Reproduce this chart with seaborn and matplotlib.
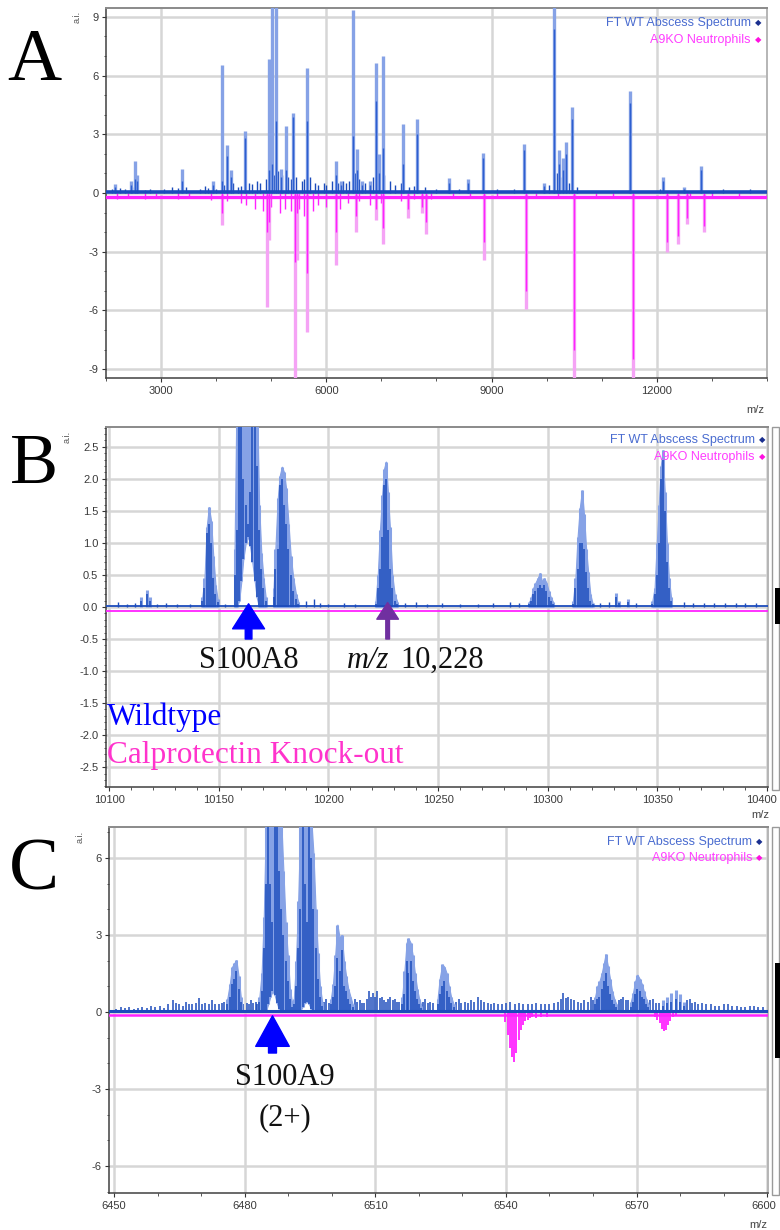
import numpy as np
import pandas as pd
import matplotlib
matplotlib.use("Agg")
import matplotlib.pyplot as plt
import matplotlib.transforms as mtransforms
from matplotlib.ticker import MultipleLocator, FixedLocator, FormatStrFormatter
from matplotlib.patches import Rectangle
import seaborn as sns

# ------------------------------------------------------------------ data
# Panel A (full m/z range): (m/z, envelope height, core height)
wt_a_peaks = [
    (2163, 0.45, 0.3), (2450, 0.6, 0.4), (2527, 1.65, 0.7), (2560, 0.9, 0.6),
    (3380, 1.25, 0.6), (3945, 0.6, 0.4), (4100, 6.55, 0.6), (4200, 2.45, 1.9),
    (4270, 1.15, 0.8), (4524, 3.15, 2.8), (4960, 6.85, 1.2), (5010, 9.6, 1.5),
    (5085, 9.6, 3.7), (5170, 1.25, 0.8), (5260, 3.4, 1.2), (5400, 4.1, 3.9),
    (5650, 6.4, 3.7), (6175, 1.65, 0.9), (6260, 0.6, 0.4), (6490, 9.35, 2.9),
    (6560, 2.25, 1.2), (6640, 0.6, 0.4), (6790, 0.6, 0.4), (6900, 6.65, 4.7),
    (6960, 2.0, 1.0), (7020, 7.0, 2.3), (7393, 3.55, 1.5), (7650, 3.8, 3.0),
    (8230, 0.75, 0.5), (8570, 0.7, 0.5), (8850, 2.05, 1.8), (9590, 2.5, 2.2),
    (9950, 0.5, 0.35), (10130, 9.6, 8.4), (10220, 2.2, 1.5), (10300, 1.8, 1.2),
    (10350, 2.6, 2.0), (10460, 4.4, 3.8), (11510, 5.2, 4.6), (12110, 0.8, 0.6),
    (12490, 0.3, 0.2), (12800, 1.4, 1.2), (13000, 0.12, 0.1),
]
wt_a_grass = [
    (2100, .2), (2250, .25), (2350, .2), (2480, .3), (2700, .15), (2800, .2),
    (3050, .2), (3200, .3), (3300, .25), (3450, .3), (3700, .2), (3800, .35),
    (3850, .25), (4000, .2), (4150, .4), (4300, .5), (4400, .3), (4450, .35),
    (4600, .5), (4650, .45), (4750, .6), (4800, .5), (4900, .7), (5050, .9),
    (5120, 1.1), (5200, .9), (5300, .8), (5350, .7), (5450, .8), (5550, .6),
    (5600, .7), (5700, .8), (5800, .5), (5850, .4), (5950, .5), (6000, .4),
    (6100, .6), (6220, .5), (6300, .6), (6350, .5), (6420, .6), (6520, 1.0),
    (6600, .7), (6700, .5), (6850, .8), (7050, .9), (7150, .6), (7250, .4),
    (7350, .5), (7500, .3), (7600, .35), (7800, .3), (8000, .2), (8400, .2),
    (9100, .2), (9400, .2), (10050, .4), (10180, 1.0), (10250, .8),
    (10400, .5), (10550, .3), (12050, .2), (13200, .2), (13700, .2),
]
ko_a_peaks = [
    (4100, -1.65, -1.0), (4920, -5.8, -2.0), (4960, -2.4, -1.5), (5430, -9.6, -3.5),
    (5460, -3.4, -1.0), (5640, -7.1, -4.1), (6175, -3.7, -2.0), (6540, -2.0, -1.2),
    (6900, -1.4, -0.8), (7030, -2.6, -1.8), (7480, -1.3, -0.8), (7730, -1.0, -0.7),
    (7810, -2.1, -1.5), (8870, -3.4, -2.5), (9620, -5.9, -5.0), (10500, -9.6, -8.0),
    (11570, -9.6, -8.5), (12180, -3.0, -2.5), (12380, -2.6, -2.2), (12540, -1.6, -1.3),
    (12850, -2.0, -1.7),
]
ko_a_grass = [
    (2200, -.3), (2400, -.25), (2700, -.3), (2900, -.2), (3300, -.3), (3500, -.25),
    (3900, -.35), (4200, -.4), (4450, -.5), (4550, -.6), (4700, -.8), (4850, -.9),
    (5000, -.7), (5150, -1.0), (5250, -.8), (5350, -.9), (5500, -.8), (5600, -1.2),
    (5750, -.9), (5850, -.6), (6000, -.7), (6250, -.8), (6400, -.5), (6600, -.4),
    (6800, -.6), (7000, -.5), (7350, -.4), (7600, -.3), (7900, -.3), (8300, -.25),
    (8600, -.2), (9100, -.2), (9800, -.2), (10200, -.2), (10900, -.15),
    (11200, -.15), (12600, -.2), (13000, -.15), (13500, -.15),
]
wt_a_base, ko_a_base = 0.05, -0.2
a_xticks = [3000, 6000, 9000, 12000]
a_yticks = [-9, -6, -3, 0, 3, 6, 9]

# Panel B (S100A8 region): (m/z, envelope top, core top, valley bottom)
wt_b_peaks = [
    (10114.6, 0.16, 0.1, 0), (10117.5, 0.27, 0.2, 0), (10118.5, 0.15, 0.1, 0),
    (10142.5, 0.15, 0.1, 0), (10143.5, 0.45, 0.3, 0), (10144.5, 1.25, 1.15, 0),
    (10145.5, 1.56, 1.3, 0), (10146.5, 1.35, 1.0, 0), (10147.5, 0.8, 0.45, 0),
    (10148.5, 0.35, 0.2, 0), (10149.5, 0.12, 0.08, 0),
    (10157.2, 0.9, 0.5, 0), (10158.2, 3.5, 1.2, 0), (10159.3, 3.5, 3.5, 0.1),
    (10160.3, 3.5, 3.5, 0.4), (10161.2, 3.5, 2.0, 0.75), (10162.3, 3.5, 1.6, 1.0),
    (10163.4, 3.5, 1.3, 1.1), (10164.3, 3.5, 1.8, 0.95), (10165.3, 3.5, 3.5, 0.7),
    (10166.4, 3.5, 3.5, 0.4), (10167.3, 3.5, 2.2, 0.15), (10168.4, 1.6, 1.2, 0),
    (10169.4, 0.85, 0.6, 0), (10170.4, 0.45, 0.3, 0), (10171.4, 0.15, 0.1, 0),
    (10175.0, 0.3, 0.15, 0), (10175.8, 0.9, 0.6, 0), (10176.9, 1.7, 0.9, 0),
    (10177.8, 2.05, 1.9, 0), (10178.8, 2.19, 2.0, 0), (10179.8, 2.1, 1.6, 0),
    (10180.7, 1.85, 1.3, 0), (10181.8, 1.3, 0.9, 0), (10182.8, 0.8, 0.5, 0),
    (10184.0, 0.45, 0.25, 0), (10185.2, 0.2, 0.12, 0), (10186.3, 0.08, 0.05, 0),
    (10221.5, 0.1, 0.05, 0), (10222.5, 0.5, 0.3, 0), (10223.5, 1.2, 0.6, 0),
    (10224.5, 1.75, 1.1, 0), (10225.3, 2.15, 1.9, 0), (10226.2, 2.27, 2.0, 0),
    (10227.1, 1.8, 1.2, 0), (10228.0, 1.25, 0.6, 0), (10229.1, 0.5, 0.3, 0),
    (10230.2, 0.2, 0.1, 0), (10231.4, 0.08, 0.05, 0),
    (10291.5, 0.08, 0.05, 0), (10292.5, 0.15, 0.1, 0), (10293.4, 0.3, 0.2, 0),
    (10294.4, 0.38, 0.25, 0), (10295.4, 0.45, 0.3, 0), (10296.4, 0.53, 0.35, 0),
    (10297.4, 0.4, 0.3, 0), (10298.4, 0.45, 0.35, 0), (10299.4, 0.38, 0.25, 0),
    (10300.4, 0.25, 0.15, 0), (10301.4, 0.15, 0.1, 0), (10302.4, 0.08, 0.05, 0),
    (10311.5, 0.1, 0.05, 0), (10312.6, 0.45, 0.3, 0), (10313.6, 1.1, 0.6, 0),
    (10314.6, 1.55, 1.0, 0), (10315.6, 1.82, 1.0, 0), (10316.5, 1.45, 0.9, 0),
    (10317.5, 0.9, 0.55, 0), (10318.4, 0.55, 0.3, 0), (10319.4, 0.2, 0.1, 0),
    (10320.4, 0.06, 0.04, 0), (10331.3, 0.22, 0.15, 0), (10332.5, 0.1, 0.06, 0),
    (10336.6, 0.12, 0.08, 0),
    (10347.7, 0.1, 0.05, 0), (10348.7, 0.3, 0.2, 0), (10349.7, 1.0, 0.5, 0),
    (10350.6, 1.6, 1.0, 0), (10351.5, 2.2, 2.0, 0), (10352.4, 2.45, 2.3, 0),
    (10353.3, 1.8, 1.5, 0), (10354.3, 1.0, 0.7, 0), (10355.2, 0.45, 0.3, 0),
    (10356.2, 0.15, 0.1, 0),
]
wt_b_grass = [
    (10104, .08), (10108, .05), (10112, .06), (10122, .05), (10126, .06), (10131, .05),
    (10137, .05), (10153, .05), (10190, .1), (10193.2, .13), (10196, .06), (10200, .05),
    (10207, .06), (10212, .05), (10235, .06), (10240, .08), (10245, .05), (10252, .06),
    (10260, .05), (10268, .05), (10275, .06), (10283, .08), (10287, .06), (10324, .06),
    (10328, .08), (10340, .06), (10362, .08), (10366, .06), (10371, .07), (10376, .06),
    (10381, .07), (10386, .06), (10390, .07), (10395, .06),
]
wt_b_base, ko_b_base = 0.015, -0.065
b_xticks = [10100, 10150, 10200, 10250, 10300, 10350, 10400]
b_yticks = [-2.5, -2.0, -1.5, -1.0, -0.5, 0.0, 0.5, 1.0, 1.5, 2.0, 2.5]

# Panel C (S100A9 2+ region): (m/z, envelope top, core top, valley bottom)
wt_c_peaks = [
    (6476.0, 0.5, 0.3, 0), (6476.6, 1.1, 0.6, 0), (6477.1, 1.75, 1.1, 0),
    (6477.6, 1.9, 1.3, 0), (6478.1, 2.02, 1.6, 0), (6478.6, 1.4, 0.9, 0),
    (6479.1, 0.6, 0.4, 0),
    (6483.4, 0.6, 0.4, 0), (6483.9, 1.5, 0.8, 0), (6484.4, 3.7, 2.5, 0),
    (6484.9, 7.5, 5.0, 0.05), (6485.4, 7.5, 7.5, 0.3), (6485.9, 7.5, 5.0, 0.6),
    (6486.4, 7.5, 3.5, 0.8), (6486.9, 7.5, 7.5, 0.65), (6487.4, 7.5, 7.5, 0.35),
    (6487.9, 7.5, 5.5, 0.1), (6488.4, 7.5, 4.0, 0), (6488.9, 5.5, 3.0, 0),
    (6489.4, 3.5, 2.0, 0), (6489.9, 2.2, 1.2, 0), (6490.4, 0.9, 0.5, 0),
    (6490.9, 0.35, 0.2, 0),
    (6491.3, 0.5, 0.3, 0), (6491.8, 2.0, 1.0, 0), (6492.3, 4.3, 2.5, 0),
    (6492.8, 7.5, 4.0, 0.05), (6493.3, 7.5, 7.5, 0.2), (6493.8, 7.5, 5.0, 0.35),
    (6494.3, 7.5, 3.5, 0.4), (6494.8, 7.5, 7.5, 0.3), (6495.3, 7.5, 6.0, 0.1),
    (6495.8, 6.2, 4.0, 0), (6496.3, 4.0, 2.5, 0), (6496.8, 2.3, 1.3, 0),
    (6497.3, 1.0, 0.6, 0), (6497.8, 0.4, 0.25, 0),
    (6499.8, 0.5, 0.3, 0), (6500.3, 1.1, 0.6, 0), (6500.8, 2.2, 1.0, 0),
    (6501.3, 3.4, 2.1, 0), (6501.8, 2.9, 1.6, 0), (6502.3, 3.0, 2.4, 0),
    (6502.8, 2.0, 1.0, 0), (6503.3, 1.4, 0.8, 0), (6503.8, 0.9, 0.5, 0),
    (6504.3, 0.6, 0.3, 0), (6504.8, 0.3, 0.2, 0),
    (6516.2, 0.6, 0.3, 0), (6516.7, 1.6, 0.7, 0), (6517.2, 2.7, 2.0, 0),
    (6517.6, 2.87, 1.5, 0), (6518.1, 2.7, 2.0, 0), (6518.6, 2.2, 1.2, 0),
    (6519.1, 1.5, 0.8, 0), (6519.6, 0.9, 0.5, 0), (6520.1, 0.5, 0.3, 0),
    (6520.6, 0.25, 0.15, 0),
    (6524.3, 0.5, 0.3, 0), (6524.8, 1.3, 0.7, 0), (6525.4, 1.85, 1.0, 0),
    (6525.9, 1.75, 1.2, 0), (6526.4, 1.5, 0.8, 0), (6526.9, 1.0, 0.6, 0),
    (6527.4, 0.6, 0.35, 0), (6528.0, 0.3, 0.2, 0),
    (6560.5, 0.6, 0.3, 0), (6561.0, 1.0, 0.5, 0), (6561.5, 1.2, 0.6, 0),
    (6562.0, 1.5, 0.9, 0), (6562.5, 1.9, 1.2, 0), (6562.9, 2.25, 1.5, 0),
    (6563.4, 1.8, 1.0, 0), (6563.9, 1.3, 0.7, 0), (6564.4, 0.8, 0.45, 0),
    (6564.9, 0.5, 0.3, 0), (6565.4, 0.3, 0.2, 0),
    (6568.7, 0.4, 0.2, 0), (6569.2, 0.75, 0.4, 0), (6569.7, 1.2, 0.7, 0),
    (6570.2, 1.45, 0.9, 0), (6570.7, 1.3, 0.8, 0), (6571.2, 1.1, 0.6, 0),
    (6571.7, 0.8, 0.5, 0), (6572.2, 0.5, 0.3, 0), (6572.7, 0.3, 0.2, 0),
    (6576.0, 0.45, 0.25, 0), (6577.0, 0.6, 0.35, 0), (6578.0, 0.75, 0.4, 0),
    (6579.0, 0.85, 0.5, 0), (6580.0, 0.7, 0.4, 0), (6581.0, 0.4, 0.25, 0),
]
wt_c_grass = [
    (6450.5, .12), (6451.5, .18), (6452.5, .15), (6453.5, .2), (6454.5, .12),
    (6455.5, .15), (6456.5, .2), (6457.5, .15), (6458.5, .25), (6459.5, .18),
    (6460.5, .22), (6461.5, .15), (6462.5, .3), (6463.5, .45), (6464.2, .35),
    (6465, .3), (6465.8, .25), (6466.5, .4), (6467.3, .3), (6468, .3), (6468.8, .35),
    (6469.5, .55), (6470.2, .3), (6471, .35), (6471.8, .3), (6472.5, .45),
    (6473.3, .3), (6474, .3), (6474.7, .35), (6475.3, .4), (6479.7, .3),
    (6480.5, .35), (6481.0, .3), (6481.5, .45), (6482.0, .35), (6482.5, .4),
    (6482.9, .3), (6498.3, .4), (6498.8, .5), (6499.3, .35), (6505.3, .5),
    (6505.8, .4), (6506.5, .45), (6507.0, .35), (6507.5, .35), (6508.0, .5),
    (6508.5, .8), (6509.0, .6), (6509.5, .75), (6510.0, .6), (6510.5, .8),
    (6511.0, .55), (6511.5, .6), (6512.0, .45), (6512.5, .4), (6513.0, .5),
    (6513.5, .6), (6514.0, .45), (6514.5, .5), (6515.0, .4), (6515.5, .4),
    (6521.0, .4), (6521.5, .5), (6522.0, .35), (6522.5, .4), (6523.2, .35),
    (6528.6, .4), (6529.2, .5), (6529.8, .35), (6530.5, .4), (6531.2, .35),
    (6532, .45), (6532.7, .4), (6533.5, .6), (6534.2, .45), (6535, .4),
    (6535.8, .35), (6536.5, .3), (6537.3, .35), (6538.2, .3), (6539, .3),
    (6540, .35), (6541, .4), (6542, .3), (6543, .35), (6544, .3), (6545, .3),
    (6546, .3), (6547, .35), (6548, .3), (6549, .3), (6550, .3), (6551, .35),
    (6552, .4), (6552.7, .5), (6553.2, .75), (6553.7, .55), (6554.2, .6),
    (6555, .5), (6555.7, .45), (6556.5, .4), (6557.3, .35), (6558, .45),
    (6558.8, .4), (6559.5, .6), (6560.0, .45), (6565.9, .45), (6566.4, .5),
    (6567.0, .6), (6567.5, .45), (6568.1, .45), (6573.2, .45), (6573.7, .5),
    (6574.4, .35), (6575.2, .35), (6581.6, .45), (6582.2, .5), (6582.8, .35),
    (6583.5, .4), (6584.2, .3), (6585, .35), (6586, .3), (6587, .3), (6588, .25),
    (6589, .25), (6590, .3), (6591, .3), (6592, .25), (6593, .25), (6594, .2),
    (6595, .2), (6596, .25), (6597, .25), (6598, .2), (6599, .2),
]
ko_c_peaks = [
    (6539.9, -0.4), (6540.4, -0.9), (6540.9, -1.4), (6541.4, -1.75), (6541.9, -1.95),
    (6542.4, -1.6), (6542.9, -1.1), (6543.4, -0.7), (6543.9, -0.5), (6544.5, -0.35),
    (6545.0, -0.3), (6545.5, -0.25), (6546.0, -0.2), (6547.0, -0.22), (6548.0, -0.18),
    (6549.5, -0.2), (6574.3, -0.2), (6574.8, -0.3), (6575.3, -0.45), (6575.8, -0.65),
    (6576.3, -0.75), (6576.8, -0.7), (6577.3, -0.5), (6577.8, -0.35), (6578.3, -0.2),
    (6579.0, -0.15),
]
wt_c_base, ko_c_base = 0.05, -0.12
c_xticks = [6450, 6480, 6510, 6540, 6570, 6600]
c_yticks = [-6, -3, 0, 3, 6]

legend_labels = ["FT WT Abscess Spectrum", "A9KO Neutrophils"]

# ------------------------------------------------------------------ style
sns.set_theme(style="white")
plt.rcParams["font.family"] = ["Liberation Sans", "DejaVu Sans"]
plt.rcParams["axes.unicode_minus"] = False

W, H = 780, 1230
fig = plt.figure(figsize=(W / 100, H / 100), dpi=100)
fig.patch.set_facecolor("white")


def fx(p):
    return p / W


def fy(p):
    return 1 - p / H


def make_axes(left, top, right, bottom):
    return fig.add_axes([fx(left), fy(bottom), (right - left) / W, (bottom - top) / H])


BLUE_LIGHT = "#86a2e6"
BLUE_FILL = "#9db4ec"
BLUE_DARK = "#1c4cbc"
MAG_LIGHT = "#f5a3f5"
MAG_DARK = "#ff22ff"
GRID = "#d6d6d6"
TXT = "#3a3a3a"


def style_axes(ax, xlim, ylim, xticks, yticks, xminor, yminor, yfmt):
    ax.set_xlim(*xlim)
    ax.set_ylim(*ylim)
    ax.xaxis.set_major_locator(FixedLocator(xticks))
    ax.yaxis.set_major_locator(FixedLocator(yticks))
    ax.xaxis.set_minor_locator(MultipleLocator(xminor))
    ax.yaxis.set_minor_locator(MultipleLocator(yminor))
    ax.yaxis.set_major_formatter(FormatStrFormatter(yfmt))
    ax.grid(True, which="major", color=GRID, lw=1.8)
    ax.set_axisbelow(True)
    ax.tick_params(which="major", direction="out", length=3, width=0.8, color="#333333",
                   labelsize=8, labelcolor=TXT, pad=2.5, left=True, bottom=True)
    ax.tick_params(which="minor", direction="out", length=1.8, width=0.7, color="#555555",
                   left=True, bottom=True)
    for side in ("left", "bottom"):
        ax.spines[side].set_color("#404040")
        ax.spines[side].set_linewidth(1.1)
    ax.spines["top"].set_color("#8a8a8a")
    ax.spines["top"].set_linewidth(1.4)
    ax.spines["right"].set_color("#b5b5b5")
    ax.spines["right"].set_linewidth(1.4)
    ax.set_xlabel("")
    ax.set_ylabel("")


def peaks_frame(peaks):
    cols = ["mz", "top", "core", "bottom"][: len(peaks[0])]
    df = pd.DataFrame(peaks, columns=cols)
    if "bottom" not in df:
        df["bottom"] = 0.0
    return df


def fill_clusters(ax, peaks, color, gap):
    df = peaks_frame(peaks).sort_values("mz")
    cid = (df["mz"].diff() > gap).cumsum()
    for _, g in df.groupby(cid):
        if len(g) > 2:
            ax.fill_between(g["mz"], g["bottom"], g["top"], color=color, lw=0.8,
                            edgecolor=BLUE_LIGHT, zorder=2.9)


def draw_sticks(ax, peaks, light, dark, lw_light, lw_dark):
    df = peaks_frame(peaks)
    ax.vlines(df["mz"], df["bottom"], df["top"], color=light, lw=lw_light, zorder=3)
    ax.vlines(df["mz"], df["bottom"], df["core"], color=dark, lw=lw_dark, zorder=4)


def draw_grass(ax, grass, color, lw):
    df = pd.DataFrame(grass, columns=["mz", "h"])
    ax.vlines(df["mz"], 0, df["h"], color=color, lw=lw, zorder=3)


def draw_baseline(ax, level, color, lw):
    x0, x1 = ax.get_xlim()
    base = pd.DataFrame({"mz": [x0, x1], "ai": [level, level]})
    sns.lineplot(data=base, x="mz", y="ai", ax=ax, color=color, lw=lw, zorder=5)
    ax.set_xlabel("")
    ax.set_ylabel("")


def legend_text(right_px, y1, y2):
    fig.text(fx(right_px), fy(y1), legend_labels[0], ha="right", va="center",
             fontsize=9, color="#4a6cd0")
    fig.text(fx(right_px + 7), fy(y1), "\u25c6", ha="center", va="center",
             fontsize=6, color="#1a2f8f", family=["DejaVu Sans"])
    fig.text(fx(right_px), fy(y2), legend_labels[1], ha="right", va="center",
             fontsize=9, color="#ff3cff")
    fig.text(fx(right_px + 7), fy(y2), "\u25c6", ha="center", va="center",
             fontsize=6, color="#ff10e0", family=["DejaVu Sans"])


def small_labels(ai_xy, mz_xy):
    fig.text(fx(ai_xy[0]), fy(ai_xy[1]), "a.i.", rotation=90, ha="center", va="center",
             fontsize=6.5, color="#555555")
    fig.text(fx(mz_xy[0]), fy(mz_xy[1]), "m/z", ha="center", va="center",
             fontsize=8, color="#444444")


def panel_letter(letter, x_px, base_px, size):
    fig.text(fx(x_px), fy(base_px), letter, ha="center", va="baseline",
             fontsize=size, family=["Liberation Serif"], color="black")


def up_arrow(ax, x, y_tip, y_tail, color, scale, hw, hl, tw):
    ax.annotate("", xy=(x, y_tip), xytext=(x, y_tail), zorder=8,
                arrowprops=dict(arrowstyle=f"simple,head_length={hl},head_width={hw},tail_width={tw}",
                                mutation_scale=scale, color=color, shrinkA=0, shrinkB=0))


def nudge_last_xlabel(ax, dx_px):
    fig.canvas.draw()
    labels = ax.get_xticklabels()
    if labels:
        lab = labels[-1]
        lab.set_transform(lab.get_transform() + mtransforms.Affine2D().translate(dx_px, 0))


SERIF = ["Liberation Serif"]

# ------------------------------------------------------------------ panel A
axA = make_axes(106, 8, 767, 378)
style_axes(axA, (2000, 14000), (-9.45, 9.45), a_xticks, a_yticks, 1000, 1, "%d")
draw_grass(axA, wt_a_grass, BLUE_DARK, 1.0)
draw_grass(axA, ko_a_grass, MAG_DARK, 1.0)
draw_sticks(axA, wt_a_peaks, BLUE_LIGHT, "#2d5fd0", 2.4, 1.0)
draw_sticks(axA, ko_a_peaks, MAG_LIGHT, MAG_DARK, 2.4, 1.0)
draw_baseline(axA, wt_a_base, BLUE_DARK, 2.6)
draw_baseline(axA, ko_a_base, MAG_DARK, 2.4)
legend_text(751, 23, 40)
small_labels((77, 17), (755, 410))
panel_letter("A", 34, 80, 54)

# ------------------------------------------------------------------ panel B
axB = make_axes(106, 427, 768, 787)
style_axes(axB, (10098.6, 10400.4), (-2.81, 2.81), b_xticks, b_yticks, 10, 0.1, "%.1f")
draw_grass(axB, wt_b_grass, BLUE_DARK, 1.0)
fill_clusters(axB, wt_b_peaks, BLUE_FILL, 1.6)
draw_sticks(axB, wt_b_peaks, BLUE_LIGHT, BLUE_DARK, 2.2, 1.1)
draw_baseline(axB, wt_b_base, BLUE_DARK, 1.3)
draw_baseline(axB, ko_b_base, MAG_DARK, 1.3)
legend_text(755, 440, 457)
small_labels((67, 437), (760, 815))
panel_letter("B", 34, 483, 52)
up_arrow(axB, 10163.6, 0.05, -0.5, "#0000ff", 20, 1.15, 0.9, 0.24)
up_arrow(axB, 10227.0, 0.07, -0.5, "#7030a0", 12, 1.3, 1.0, 0.22)
axB.text(10163.6, -0.84, "S100A8", ha="center", va="center", fontsize=22,
         family=SERIF, color="#111111", zorder=9)
axB.text(10208.4, -0.84, "m/z", ha="left", va="center", fontsize=22,
         family=SERIF, style="italic", color="#111111", zorder=9)
axB.text(10232.8, -0.84, "10,228", ha="left", va="center", fontsize=22,
         family=SERIF, color="#111111", zorder=9)
axB.text(10099.1, -1.84, "Wildtype", ha="left", va="baseline", fontsize=22.5,
         family=SERIF, color="#0000ff", zorder=9)
axB.text(10099.1, -2.44, "Calprotectin Knock-out", ha="left", va="baseline",
         fontsize=22.5, family=SERIF, color="#ff33cc", zorder=9)

# ------------------------------------------------------------------ panel C
axC = make_axes(109, 827, 768, 1193)
style_axes(axC, (6448.85, 6600.2), (-7.05, 7.2), c_xticks, c_yticks, 10, 1, "%d")
draw_grass(axC, wt_c_grass, BLUE_DARK, 1.1)
fill_clusters(axC, wt_c_peaks, BLUE_FILL, 0.8)
draw_sticks(axC, wt_c_peaks, BLUE_LIGHT, BLUE_DARK, 2.2, 1.1)
ko_c = pd.DataFrame(ko_c_peaks, columns=["mz", "ai"])
axC.vlines(ko_c["mz"], 0, ko_c["ai"], color=MAG_DARK, lw=1.3, zorder=3)
draw_baseline(axC, wt_c_base, BLUE_DARK, 2.2)
draw_baseline(axC, ko_c_base, MAG_DARK, 1.8)
legend_text(752, 842, 858)
small_labels((80, 837), (758, 1225))
panel_letter("C", 34, 890, 54)
up_arrow(axC, 6486.4, -0.15, -1.6, "#0000ff", 22, 1.1, 1.0, 0.26)
axC.text(6489.2, -2.55, "S100A9", ha="center", va="center", fontsize=22,
         family=SERIF, color="#111111", zorder=9)
axC.text(6489.2, -4.1, "(2+)", ha="center", va="center", fontsize=22,
         family=SERIF, color="#111111", zorder=9)

# ------------------------------------------------------------------ scroll bars (viewer chrome)
for top, bot, btop, bbot in [(427, 790, 588, 624), (827, 1195, 963, 1058)]:
    fig.patches.append(Rectangle((fx(772), fy(bot)), 7 / W, (bot - top) / H,
                                 transform=fig.transFigure, facecolor="white",
                                 edgecolor="#9a9a9a", lw=1.0))
    fig.patches.append(Rectangle((fx(775), fy(bbot)), 5 / W, (bbot - btop) / H,
                                 transform=fig.transFigure, facecolor="black",
                                 edgecolor="none"))

nudge_last_xlabel(axB, -6)
nudge_last_xlabel(axC, -3)

fig.savefig("out.png", dpi=100)
